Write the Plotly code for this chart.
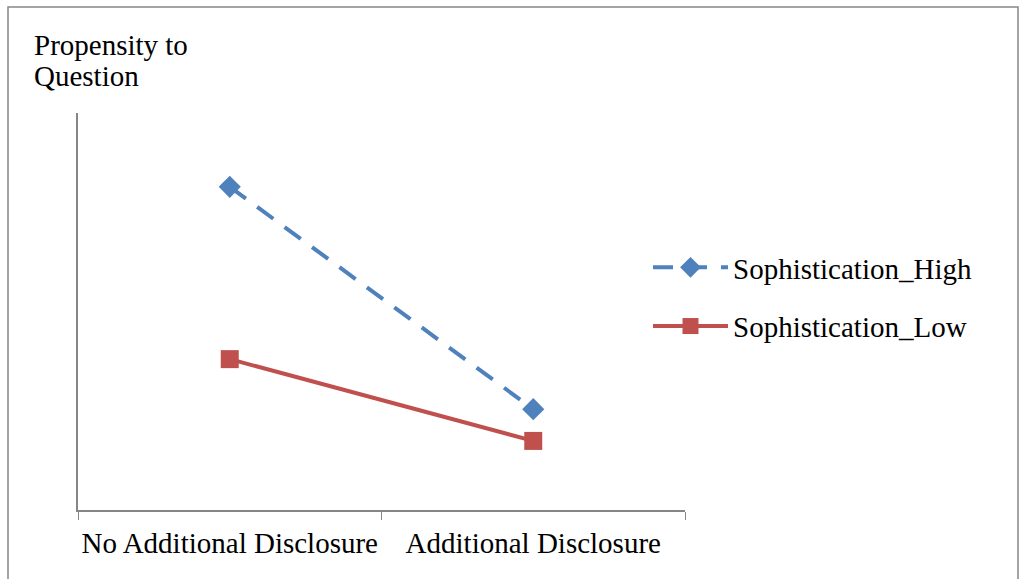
import plotly.graph_objects as go

categories = ["No Additional Disclosure", "Additional Disclosure"]
high_values = [4.07, 1.27]
low_values = [1.90, 0.87]
series_names = ["Sophistication_High", "Sophistication_Low"]
title_lines = ["Propensity to", "Question"]

W, H = 1021, 579
L, R, T, B = 78, 1021 - 685, 113, 579 - 510
pw, ph = W - L - R, H - T - B

def px_x(p):
    return (p - L) / pw

def px_y(p):
    return (H - B - p) / ph

FONT = "Liberation Serif"
FS = 29

fig = go.Figure()
fig.add_trace(go.Scatter(
    x=categories, y=high_values, name=series_names[0], mode="lines+markers",
    legendgroup="a",
    line=dict(color="#4F81BD", width=4, dash="20px,14px"),
    marker=dict(symbol="diamond", size=17, color="#4F81BD"),
))
fig.add_trace(go.Scatter(
    x=categories, y=low_values, name=series_names[1], mode="lines+markers",
    legendgroup="b",
    line=dict(color="#C0504D", width=4),
    marker=dict(symbol="square", size=18, color="#C0504D"),
))

fig.update_layout(
    width=W, height=H,
    margin=dict(l=L, r=R, t=T, b=B),
    paper_bgcolor="white", plot_bgcolor="white",
    font=dict(family=FONT, size=FS, color="black"),
    xaxis=dict(type="category", range=[-0.5, 1.5], showgrid=False, showline=True,
               linecolor="#868686", linewidth=1.5, ticks="outside", tickson="boundaries",
               ticklen=8, tickcolor="#868686", tickfont=dict(family=FONT, size=FS),
               ticklabelstandoff=6, tickangle=0, automargin=False),
    yaxis=dict(range=[0, 5], showgrid=False, showline=True, linecolor="#868686",
               linewidth=1.5, showticklabels=False, ticks="", zeroline=False,
               automargin=False),
    legend=dict(x=px_x(648), y=px_y(242), xanchor="left", yanchor="top",
                font=dict(family=FONT, size=FS), itemwidth=75,
                traceorder="grouped", tracegroupgap=18,
                bgcolor="rgba(0,0,0,0)"),
    showlegend=True,
)
for i, (line, cy) in enumerate(zip(title_lines, [45, 76])):
    fig.add_annotation(
        text=line, xref="paper", yref="paper",
        x=px_x(32), y=px_y(cy), xanchor="left", yanchor="middle", showarrow=False,
        align="left", font=dict(family=FONT, size=FS),
    )
fig.add_shape(type="rect", xref="paper", yref="paper",
              x0=px_x(8), x1=px_x(1018), y0=px_y(590), y1=px_y(7),
              line=dict(color="#868686", width=1.5), layer="below")

fig.write_html("out.html", config={"displayModeBar": False},
               post_script="document.body.style.margin='0';")
